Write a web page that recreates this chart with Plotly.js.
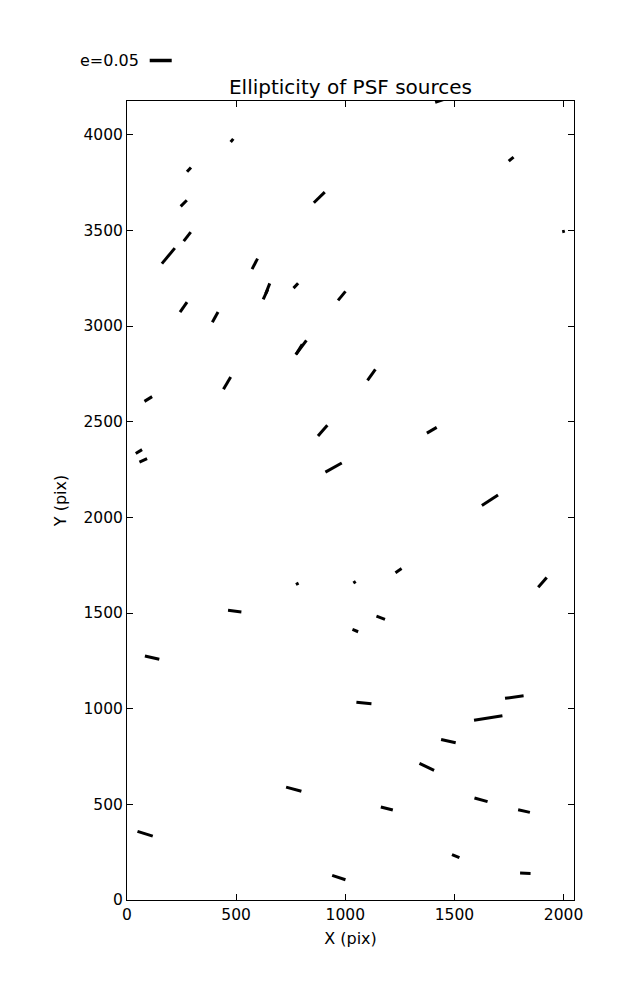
<!DOCTYPE html>
<html>
<head>
<meta charset="utf-8">
<script src="https://cdn.plot.ly/plotly-3.0.1.min.js"></script>
<style>html,body{margin:0;padding:0;background:#fff;}</style>
</head>
<body>
<div id="chart" style="width:637px;height:1000px;"></div>
<script>
// Whisker (PSF ellipticity) segments: start and end points in pixel coordinates
const xStart = [1412, 475, 1749, 275, 856, 246, 1994, 260, 160, 573, 624, 636, 763, 967, 243, 391, 773, 775, 1102, 442, 80, 875, 1374, 40, 57, 909, 1626, 1230, 774, 1037, 1884, 463, 1143, 1033, 82, 1732, 1051, 1590, 1439, 1340, 729, 1592, 1163, 1792, 48, 1489, 1801, 940];
const yStart = [4169, 3962, 3862, 3806, 3644, 3625, 3493, 3444, 3326, 3297, 3139, 3170, 3198, 3134, 3073, 3020, 2850, 2852, 2716, 2669, 2606, 2425, 2440, 2334, 2289, 2236, 2062, 1711, 1649, 1657, 1635, 1514, 1484, 1414, 1275, 1054, 1034, 939, 839, 714, 590, 533, 486, 472, 359, 237, 141, 129];
const xEnd   = [1451, 487, 1771, 293, 906, 274, 2006, 292, 219, 598, 645, 654, 784, 1001, 275, 417, 822, 803, 1138, 475, 115, 918, 1419, 69, 92, 984, 1700, 1258, 786, 1048, 1923, 524, 1182, 1059, 148, 1817, 1120, 1720, 1506, 1407, 799, 1652, 1218, 1846, 118, 1523, 1849, 1001];
const yEnd   = [4184, 3978, 3883, 3829, 3700, 3657, 3496, 3491, 3407, 3352, 3191, 3223, 3224, 3181, 3125, 3073, 2925, 2904, 2773, 2733, 2631, 2481, 2470, 2354, 2307, 2284, 2117, 1732, 1656, 1665, 1686, 1505, 1467, 1402, 1258, 1067, 1026, 963, 822, 677, 568, 514, 470, 458, 334, 221, 139, 106];

const xTicks = [0, 500, 1000, 1500, 2000];
const yTicks = [0, 500, 1000, 1500, 2000, 2500, 3000, 3500, 4000];
const keyLabel = 'e=0.05';

const xs = [], ys = [];
for (let i = 0; i < xStart.length; i++) {
  xs.push(xStart[i], xEnd[i], null);
  ys.push(yStart[i], yEnd[i], null);
}

const FONT = 'DejaVu Sans, sans-serif';

const trace = {
  type: 'scatter', mode: 'lines', x: xs, y: ys,
  connectgaps: false,
  line: {color: '#000', width: 3},
  hoverinfo: 'skip', showlegend: false
};

const L = 127.3, R = 574.2, T = 100.5, B = 899.6;
const W = 637, H = 1000;
const pw = R - L, ph = B - T;
const py = (p) => (B - p) / ph;
const px = (p) => (p - L) / pw;

const layout = {
  width: W, height: H,
  margin: {l: L, r: W - R, t: T, b: H - B, pad: 0},
  paper_bgcolor: '#fff', plot_bgcolor: '#fff',
  showlegend: false,
  title: {text: 'Ellipticity of PSF sources', font: {family: FONT, size: 20, color: '#000'},
          x: 0.5, xref: 'paper', xanchor: 'center', y: 1 - 86.5 / H, yanchor: 'middle'},
  xaxis: {
    range: [0, 2048], tickvals: xTicks, ticktext: xTicks.map(String),
    ticks: 'inside', ticklen: 6, tickwidth: 1, tickcolor: '#000',
    showline: true, linecolor: '#000', linewidth: 1, mirror: 'ticks',
    showgrid: false, zeroline: false,
    tickfont: {family: FONT, size: 15.5, color: '#000'},
    title: {text: 'X (pix)', font: {family: FONT, size: 16, color: '#000'}, standoff: 10}
  },
  yaxis: {
    range: [0, 4176], tickvals: yTicks, ticktext: yTicks.map(String),
    ticks: 'inside', ticklen: 6, tickwidth: 1, tickcolor: '#000',
    showline: true, linecolor: '#000', linewidth: 1, mirror: 'ticks',
    showgrid: false, zeroline: false,
    tickfont: {family: FONT, size: 15.5, color: '#000'},
    title: {text: 'Y (pix)', font: {family: FONT, size: 16, color: '#000'}, standoff: 12}
  },
  annotations: [{
    xref: 'paper', yref: 'paper', x: px(141.5), y: py(60), xanchor: 'right', yanchor: 'middle',
    text: keyLabel, showarrow: false, font: {family: FONT, size: 16, color: '#000'}
  }],
  shapes: [{
    type: 'line', xref: 'paper', yref: 'paper',
    x0: px(150), x1: px(172), y0: py(60), y1: py(60),
    line: {color: '#000', width: 3.5}
  }]
};

Plotly.newPlot('chart', [trace], layout, {displayModeBar: false, staticPlot: true});
</script>
</body>
</html>
